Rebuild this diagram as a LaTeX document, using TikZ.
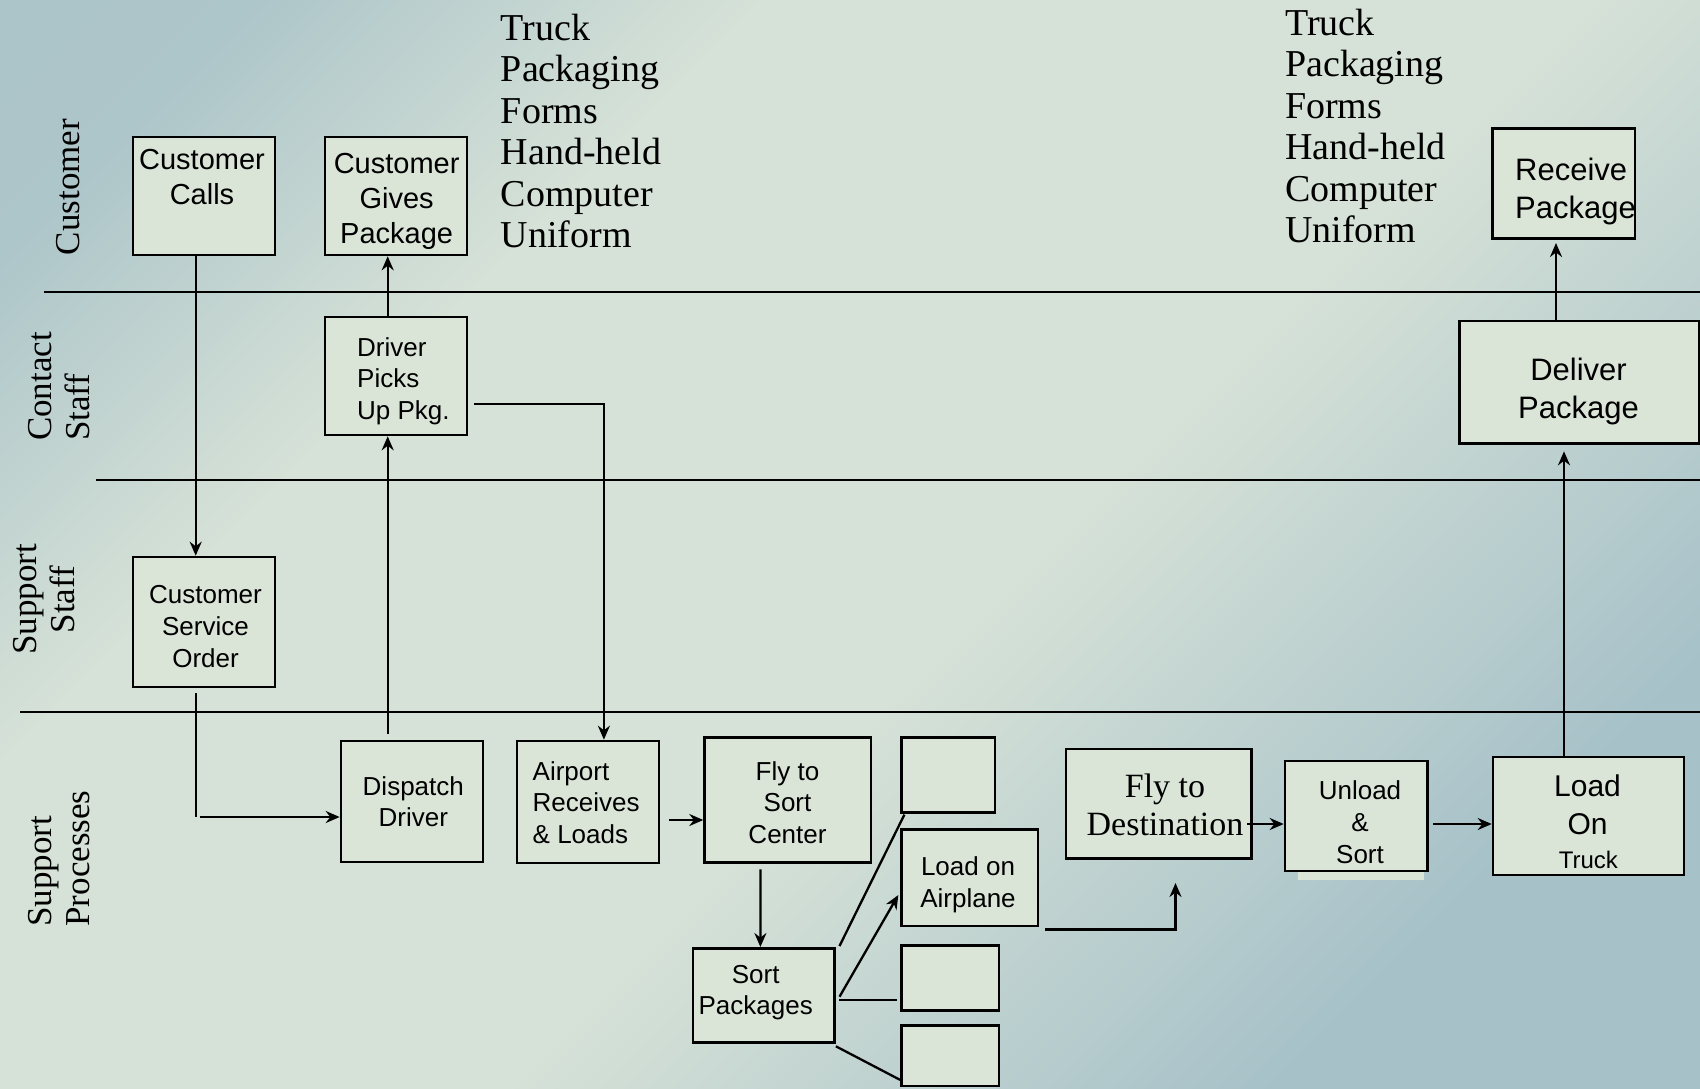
\documentclass[tikz,border=0pt]{standalone}
\usepackage{fontspec}
\setmainfont{Liberation Serif}
\setsansfont{Liberation Sans}
\usetikzlibrary{arrows.meta,calc}
\newcommand\fsz[2]{\fontsize{#1}{#2}\selectfont}
\definecolor{boxfill}{RGB}{218,229,216}
\pgfdeclarehorizontalshading{bgsh}{100bp}{rgb(0bp)=(0.66,0.765,0.785); rgb(21bp)=(0.68,0.775,0.79); rgb(34bp)=(0.84,0.885,0.845); rgb(55bp)=(0.84,0.885,0.845); rgb(75bp)=(0.65,0.755,0.785); rgb(100bp)=(0.65,0.755,0.785)}
\begin{document}
\begin{tikzpicture}[x=1pt,y=-1pt,
  bx/.style={draw=black, line width=2.6pt, fill=boxfill, inner sep=0pt},
  tx/.style={inner sep=0pt, font=\sffamily\fsz{26}{31.7}, align=center},
  res/.style={inner sep=0pt, font=\rmfamily\fsz{38}{41.5}, align=left, anchor=west},
  lanelab/.style={inner sep=0pt, rotate=90, font=\rmfamily\fsz{35}{38}},
  laneline/.style={draw=black, line width=2pt},
  conn/.style={draw=black, line width=2.3pt},
  arr/.style={conn, -{Stealth[length=14pt,width=12pt]}}]

\shade[shading=bgsh, shading angle=-45] (0,0) rectangle (1700,1088);
\useasboundingbox (0,0) rectangle (1700,1088);

% lane separators
\draw[laneline] (44,291.7) -- (1700,291.7);
\draw[laneline] (96,480) -- (1700,480);
\draw[laneline] (20,712.3) -- (1700,712.3);

% lane labels
\node[lanelab] (lab1) at (68.2,187) {Customer};
\node[lanelab, align=left] (lab2) at (59.2,386.5) {Contact\\Staff};
\node[lanelab, align=center] (lab3) at (44.2,599.5) {Support\\Staff};
\node[lanelab, align=left] (lab4) at (59.4,858.5) {Support\\Processes};

% resources text
\node[res] (res1) at (500.7,130.8) {Truck\\Packaging\\Forms\\Hand-held\\Computer\\Uniform};
\node[res] (res2) at (1285,126) {Truck\\Packaging\\Forms\\Hand-held\\Computer\\Uniform};

% boxes
\node[bx, minimum width=142pt, minimum height=118pt] (cc) at (204,196) {};
\node[bx, minimum width=142pt, minimum height=118pt] (cgp) at (396,196) {};
\node[bx, minimum width=142pt, minimum height=118pt] (dpu) at (396,376) {};
\node[bx, minimum width=142pt, minimum height=130pt] (cso) at (204,622) {};
\node[bx, minimum width=142pt, minimum height=121pt] (dd) at (412,801.5) {};
\node[bx, minimum width=142pt, minimum height=122pt] (arl) at (588,802) {};
\node[bx, minimum width=166.4pt, minimum height=125.4pt] (fsc) at (787.8,800) {};
\node[bx, minimum width=93.6pt, minimum height=75.4pt] (e1) at (948.2,775) {};
\node[bx, minimum width=136.5pt, minimum height=96.7pt] (loa) at (969.65,877.65) {};
\node[bx, minimum width=97.5pt, minimum height=65pt] (e3) at (950.15,978.2) {};
\node[bx, minimum width=97.5pt, minimum height=60.3pt] (e4) at (950.15,1055.85) {};
\node[bx, minimum width=141.7pt, minimum height=94.4pt] (sp) at (763.75,995.5) {};
\node[bx, minimum width=185.7pt, minimum height=109.7pt] (fd) at (1158.85,803.85) {};
\fill[boxfill] (1297.6,764) rectangle (1423.8,880);
\node[bx, minimum width=142.2pt, minimum height=110pt] (us) at (1356.1,816) {};
\node[bx, minimum width=191pt, minimum height=118pt] (lot) at (1588.5,816) {};
\node[bx, minimum width=142.3pt, minimum height=110pt] (rp) at (1563.85,183.7) {};
\node[bx, minimum width=239.6pt, minimum height=122.3pt] (dp) at (1579.5,382.15) {};

% box texts
\node[tx, font=\sffamily\fsz{29}{35}] (cc-t) at (202,176.8) {Customer\\Calls};
\node[tx, font=\sffamily\fsz{29}{35}] (cgp-t) at (396.6,201.6) {Customer\\Gives\\Package};
\node[tx, align=left, anchor=west] (dpu-t) at (357,381) {Driver\\Picks\\Up Pkg.};
\node[tx] (cso-t) at (205.5,626.5) {Customer\\Service\\Order};
\node[tx] (dd-t) at (413.3,801.7) {Dispatch\\Driver};
\node[tx, align=left, anchor=west] (arl-t) at (532.5,802.5) {Airport\\Receives\\\& Loads};
\node[tx] (fsc-t) at (787.5,802.5) {Fly to\\Sort\\Center};
\node[tx] (sp-t) at (755.7,992.5) {Sort\\Packages};
\node[tx] (loa-t) at (968,885) {Load on\\Airplane};
\node[tx, font=\rmfamily\fsz{34}{37.7}] (fd-t) at (1165,804.7) {Fly to\\Destination};
\node[tx, font=\sffamily\fsz{26}{32}] (us-t) at (1360,822) {Unload\\\&\\Sort};
\node[tx, font=\sffamily\fsz{30}{38}] (lot-t) at (1587.5,805) {Load\\On};
\node[tx, font=\sffamily\fsz{24}{28}] (lot-u) at (1588.4,859.8) {Truck};
\node[tx, align=left, anchor=west, font=\sffamily\fsz{31}{38.3}] (rp-t) at (1515,191.3) {Receive\\Package};
\node[tx, font=\sffamily\fsz{31}{38.3}] (dp-t) at (1578.5,391.3) {Deliver\\Package};

% connectors
\draw[arr] ($(cc.south)+(-8.3,0)$) -- ($(cso.north)+(-8.3,0)$);
\coordinate (bend1) at (195.7,817);
\draw[conn] ($(cso.south)+(-8.3,5)$) -- (bend1);
\draw[arr] ($(bend1)+(4,0)$) -- (bend1 -| dd.west);
\draw[arr] ($(dd.north)+(-24.3,-6)$) -- ($(dpu.south)+(-8.3,0)$);
\draw[arr] ($(dpu.north)+(-8.3,0)$) -- ($(cgp.south)+(-8.3,0)$);
\draw[arr] ($(dpu.east)+(5.7,28)$) -| ($(arl.north)+(15.9,0)$);
\draw[arr] ($(arl.east)+(9,18)$) -- ($(fsc.west)+(0,20)$);
\draw[arr] ($(fsc.south)+(-27.4,5.3)$) -- ($(sp.north)+(-3.35,0)$);
\draw[conn] ($(sp.north east)+(3.6,-1)$) -- ($(e1.south west)+(4.3,0.6)$);
\draw[arr] ($(sp.east)+(3.6,1.2)$) -- ($(loa.west)+(-1.8,17.35)$);
\draw[conn] ($(sp.east)+(3.4,4.5)$) -- ($(e3.west)+(-3.5,21.8)$);
\draw[conn] ($(sp.south east)+(0,2.3)$) -- ($(e4.west)+(0,24)$);
\draw[arr] ($(loa.south east)+(6.1,2.3)$) -| ($(fd.south)+(16.65,23)$);
\draw[arr] ($(fd.east)+(-5.7,20.15)$) -- ($(us.west)+(0,8)$);
\draw[arr] ($(us.east)+(4.8,8)$) -- ($(lot.west)+(0,8)$);
\draw[arr] ($(lot.north)+(-24.5,0)$) -- ($(dp.south)+(-15.5,6.7)$);
\draw[arr] ($(dp.north)+(-23.5,0)$) -- ($(rp.south)+(-7.85,3)$);
\end{tikzpicture}
\end{document}
